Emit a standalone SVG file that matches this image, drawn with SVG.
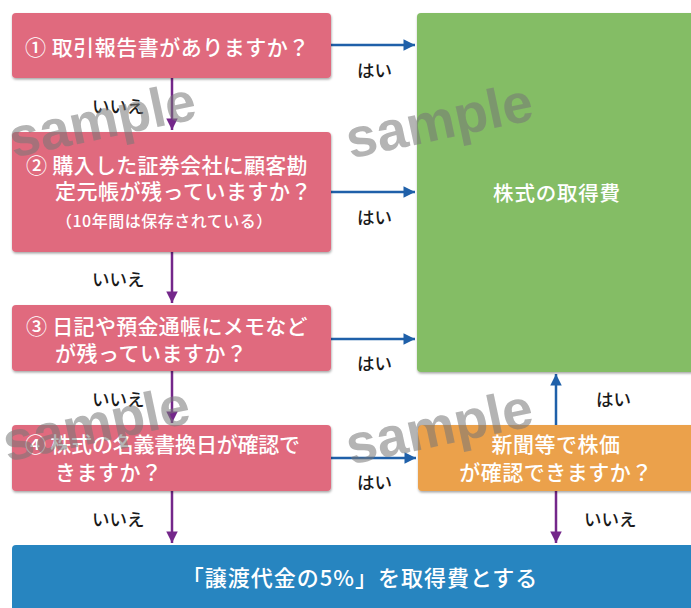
<svg xmlns="http://www.w3.org/2000/svg" width="691" height="608" viewBox="0 0 691 608">
<defs>
<style>
.box{stroke:none}
.pink{fill:#E06A7E}
.green{fill:#84BD65}
.orange{fill:#EBA14C}
.blue{fill:#2785C0}
.t{font-family:"Noto Sans CJK JP","Noto Sans",sans-serif;fill:#fff;font-weight:500}
.lbl{font-family:"Noto Sans CJK JP","Noto Sans",sans-serif;fill:#1a1a1a;font-size:17.5px;font-weight:500}
.yes{stroke:#1F60A9;stroke-width:2.5;fill:none;marker-end:url(#ab)}
.no{stroke:#74278A;stroke-width:2.5;fill:none;marker-end:url(#ap)}
.wm{font-family:"Liberation Sans",Arial,sans-serif;font-weight:bold;font-size:55px;fill:#777;opacity:0.55}
</style>
<marker id="ab" viewBox="0 0 10 10" refX="10" refY="5" markerWidth="5" markerHeight="4.6" orient="auto" markerUnits="strokeWidth"><path d="M0,0L10,5L0,10z" fill="#1F60A9"/></marker>
<marker id="ap" viewBox="0 0 10 10" refX="10" refY="5" markerWidth="5" markerHeight="4.6" orient="auto" markerUnits="strokeWidth"><path d="M0,0L10,5L0,10z" fill="#74278A"/></marker>
<filter id="sh" x="-5%" y="-5%" width="110%" height="115%"><feDropShadow dx="0.5" dy="1.5" stdDeviation="0.8" flood-color="#000" flood-opacity="0.35"/></filter>
</defs>
<rect width="691" height="608" fill="#fff"/>

<g id="connectors">
<path class="yes" d="M331,45H415"/>
<path class="yes" d="M331,192H415"/>
<path class="yes" d="M331,339H415"/>
<path class="yes" d="M331,458H416"/>
<path class="yes" d="M556,425V374"/>
<path class="no" d="M172,78V130"/>
<path class="no" d="M172,252V303"/>
<path class="no" d="M172,371V423"/>
<path class="no" d="M172,491V543"/>
<path class="no" d="M556,491V543"/>
<text class="lbl" x="357" y="77">はい</text>
<text class="lbl" x="357" y="224">はい</text>
<text class="lbl" x="357" y="370">はい</text>
<text class="lbl" x="357" y="489">はい</text>
<text class="lbl" x="596" y="406">はい</text>
<text class="lbl" x="92" y="113" font-size="18.5">いいえ</text>
<text class="lbl" x="92" y="286" font-size="18.5">いいえ</text>
<text class="lbl" x="92" y="406" font-size="18.5">いいえ</text>
<text class="lbl" x="92" y="526" font-size="18.5">いいえ</text>
<text class="lbl" x="584" y="526" font-size="18.5">いいえ</text>
</g>

<g id="q1">
<rect class="box pink" x="12" y="13" width="319" height="65" rx="4" filter="url(#sh)"/>
<text class="t" x="25" y="55" font-size="21" letter-spacing="0.5">① 取引報告書がありますか？</text>
</g>

<g id="q2">
<rect class="box pink" x="12" y="132" width="319" height="120" rx="4" filter="url(#sh)"/>
<text class="t" x="26" y="173" font-size="21" letter-spacing="0.3">② 購入した証券会社に顧客勘</text>
<text class="t" x="55" y="199" font-size="21" letter-spacing="0.5">定元帳が残っていますか？</text>
<text class="t" x="56" y="227" font-size="16" letter-spacing="0.5">（10年間は保存されている）</text>
</g>

<g id="q3">
<rect class="box pink" x="12" y="305" width="319" height="66" rx="4" filter="url(#sh)"/>
<text class="t" x="26" y="334" font-size="21" letter-spacing="0.3">③ 日記や預金通帳にメモなど</text>
<text class="t" x="55" y="361" font-size="21" letter-spacing="0.5">が残っていますか？</text>
</g>

<g id="q4">
<rect class="box pink" x="12" y="425" width="319" height="66" rx="4" filter="url(#sh)"/>
<text class="t" x="25" y="452" font-size="21" letter-spacing="-0.2">④ 株式の名義書換日が確認で</text>
<text class="t" x="55" y="480" font-size="21" letter-spacing="0.5">きますか？</text>
</g>

<g id="price">
<rect class="box orange" x="418" y="425" width="280" height="66" rx="4" filter="url(#sh)"/>
<text class="t" x="556" y="452" font-size="21" text-anchor="middle" letter-spacing="0.5">新聞等で株価</text>
<text class="t" x="556" y="480" font-size="21" text-anchor="middle" letter-spacing="0.5">が確認できますか？</text>
</g>

<g id="cost">
<rect class="box green" x="417" y="13" width="285" height="359" rx="4" filter="url(#sh)"/>
<text class="t" x="557" y="201" font-size="20.5" text-anchor="middle" letter-spacing="0.8">株式の取得費</text>
</g>

<g id="result">
<rect class="box blue" x="12" y="545" width="690" height="70" rx="4"/>
<text class="t" x="360" y="586" font-size="22" text-anchor="middle" letter-spacing="1">「譲渡代金の5%」を取得費とする</text>
</g>

<g id="watermarks">
<text class="wm" x="106" y="138" text-anchor="middle" transform="rotate(-12 106 138)">sample</text>
<text class="wm" x="443" y="139" text-anchor="middle" transform="rotate(-12 443 139)">sample</text>
<text class="wm" x="100" y="442" text-anchor="middle" transform="rotate(-12 100 442)">sample</text>
<text class="wm" x="443" y="445" text-anchor="middle" transform="rotate(-12 443 445)">sample</text>
</g>
</svg>
